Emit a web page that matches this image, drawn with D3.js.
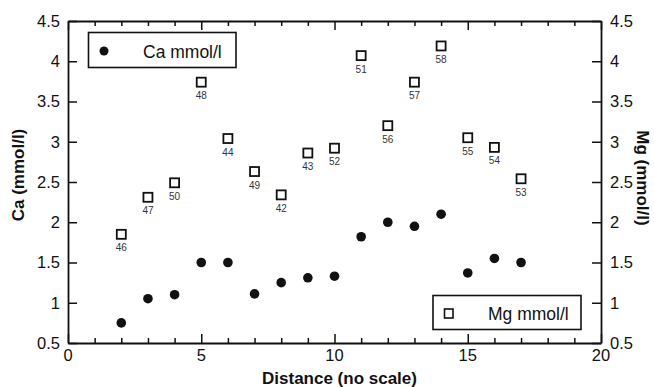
<!DOCTYPE html>
<html>
<head>
<meta charset="utf-8">
<script src="https://cdn.jsdelivr.net/npm/d3@7/dist/d3.min.js"></script>
<style>
  html, body { margin: 0; padding: 0; background: #fff; }
  svg { display: block; font-family: "Liberation Sans", Arial, Helvetica, sans-serif; }
</style>
</head>
<body>
<svg id="chart" width="654" height="387"></svg>
<script>
// Sampling positions along the transect (no true scale)
const distance = [2, 3, 4, 5, 6, 7, 8, 9, 10, 11, 12, 13, 14, 15, 16, 17];
// Calcium concentration, mmol/l
const ca = [0.75, 1.05, 1.10, 1.50, 1.50, 1.11, 1.25, 1.31, 1.33, 1.82, 2.00, 1.95, 2.10, 1.37, 1.55, 1.50];
// Magnesium concentration, mmol/l
const mg = [1.85, 2.31, 2.49, 3.74, 3.04, 2.63, 2.34, 2.86, 2.92, 4.07, 3.20, 3.74, 4.19, 3.05, 2.93, 2.54];
// Sample numbers printed beneath each Mg point
const sampleIds = ["46", "47", "50", "48", "44", "49", "42", "43", "52", "51", "56", "57", "58", "55", "54", "53"];
// Axis tick labels
const xTicks = [0, 5, 10, 15, 20];
const yTicks = [0.5, 1, 1.5, 2, 2.5, 3, 3.5, 4, 4.5];

const svg = d3.select("#chart");
const x = d3.scaleLinear().domain([0, 20]).range([68, 601]);
const yCa = d3.scaleLinear().domain([0.5, 4.5]).range([343, 21]);
const yMg = d3.scaleLinear().domain([0.5, 4.5]).range([343, 21]);

const ink = "#111";
const tickFont = "16.5px";

// Frame: all ticks point into the plot; x has a tick per unit, longer every 5
const minorX = d3.range(0, 21);
const gB = svg.append("g").attr("transform", `translate(0,${yCa.range()[0]})`);
gB.call(d3.axisBottom(x).tickValues(minorX).tickSizeOuter(0).tickSizeInner(0).tickFormat(""));
gB.selectAll(".tick line").attr("y2", d => d % 5 === 0 ? -9 : -5);
gB.selectAll(".tick text").remove();

const gT = svg.append("g").attr("transform", `translate(0,${yCa.range()[1]})`);
gT.call(d3.axisTop(x).tickValues(minorX).tickSizeOuter(0).tickSizeInner(0).tickFormat(""));
gT.selectAll(".tick line").attr("y2", d => d % 5 === 0 ? 9 : 5);
gT.selectAll(".tick text").remove();

const gL = svg.append("g").attr("transform", `translate(${x.range()[0]},0)`);
gL.call(d3.axisLeft(yCa).tickValues(yTicks).tickSizeOuter(0).tickSizeInner(-9).tickPadding(8).tickFormat(d3.format("")));

const gR = svg.append("g").attr("transform", `translate(${x.range()[1]},0)`);
gR.call(d3.axisRight(yMg).tickValues(yTicks).tickSizeOuter(0).tickSizeInner(-9).tickPadding(9).tickFormat(d3.format("")));

[gB, gT, gL, gR].forEach(g => {
  g.select(".domain").attr("stroke", ink).attr("stroke-width", 1.8);
  g.selectAll(".tick line").attr("stroke", ink).attr("stroke-width", 1.5);
  g.selectAll(".tick text").attr("fill", ink).style("font-size", tickFont).attr("font-family", null);
});

// x tick labels under the frame
svg.append("g").selectAll("text").data(xTicks).join("text")
  .attr("x", d => x(d)).attr("y", 361)
  .attr("text-anchor", "middle").attr("fill", ink)
  .style("font-size", tickFont).text(d => d);

// Axis titles
svg.append("text").attr("x", (x(0) + x(20)) / 2 + 5).attr("y", 384)
  .attr("text-anchor", "middle").attr("fill", ink)
  .style("font-size", "17px").style("font-weight", "bold")
  .text("Distance (no scale)");

svg.append("text").attr("transform", `translate(24,${(yCa(0.5) + yCa(4.5)) / 2 - 7}) rotate(-90)`)
  .attr("text-anchor", "middle").attr("fill", ink)
  .style("font-size", "17px").style("font-weight", "bold")
  .text("Ca (mmol/l)");

svg.append("text").attr("transform", `translate(637,${(yMg(0.5) + yMg(4.5)) / 2 - 4}) rotate(90)`)
  .attr("text-anchor", "middle").attr("fill", ink)
  .style("font-size", "17px").style("font-weight", "bold")
  .text("Mg (mmol/l)");

// Mg: open squares with sample numbers
const mgPts = distance.map((d, i) => ({ d, v: mg[i], id: sampleIds[i] }));
const sq = 9;
svg.append("g").selectAll("rect").data(mgPts).join("rect")
  .attr("x", p => x(p.d) - sq / 2).attr("y", p => yMg(p.v) - sq / 2)
  .attr("width", sq).attr("height", sq)
  .attr("fill", "#fff").attr("stroke", ink).attr("stroke-width", 1.8);
svg.append("g").selectAll("text").data(mgPts).join("text")
  .attr("x", p => x(p.d)).attr("y", p => yMg(p.v) + 17)
  .attr("text-anchor", "middle").attr("fill", "#333")
  .style("font-size", "10px").text(p => p.id);

// Ca: filled circles
svg.append("g").selectAll("circle").data(distance.map((d, i) => ({ d, v: ca[i] }))).join("circle")
  .attr("cx", p => x(p.d)).attr("cy", p => yCa(p.v)).attr("r", 4.8)
  .attr("fill", ink);

// Legends
const lg1 = svg.append("g");
lg1.append("rect").attr("x", 88.5).attr("y", 32.5).attr("width", 147.5).attr("height", 35)
  .attr("fill", "#fff").attr("stroke", ink).attr("stroke-width", 1.6);
lg1.append("circle").attr("cx", 104).attr("cy", 51).attr("r", 4.5).attr("fill", ink);
lg1.append("text").attr("x", 143).attr("y", 57.5).attr("fill", ink)
  .style("font-size", "17.5px").text("Ca mmol/l");

const lg2 = svg.append("g");
lg2.append("rect").attr("x", 433).attr("y", 295.5).attr("width", 148).attr("height", 34)
  .attr("fill", "#fff").attr("stroke", ink).attr("stroke-width", 1.6);
lg2.append("rect").attr("x", 444.5).attr("y", 309).attr("width", 8.5).attr("height", 9)
  .attr("fill", "#fff").attr("stroke", ink).attr("stroke-width", 1.6);
lg2.append("text").attr("x", 488).attr("y", 320).attr("fill", ink)
  .style("font-size", "17.5px").text("Mg mmol/l");
</script>
</body>
</html>
